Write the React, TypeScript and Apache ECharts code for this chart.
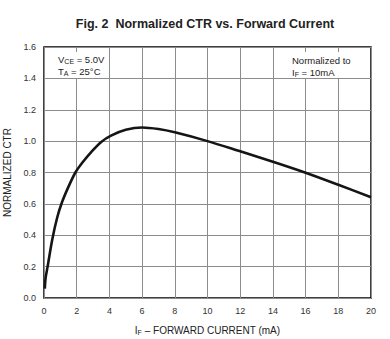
import React, { useEffect, useRef } from "react";
import * as echarts from "echarts";

const currentMA = [0.05, 0.1, 0.22, 0.5, 0.8, 1.1, 1.5, 1.92, 2.4, 2.9, 3.5, 4.1, 5, 6, 7, 8, 10, 12, 14, 16, 18, 20];
const normalizedCTR = [0.06, 0.13, 0.2, 0.37, 0.51, 0.61, 0.71, 0.8, 0.87, 0.932, 0.995, 1.035, 1.072, 1.087, 1.077, 1.056, 1.0, 0.935, 0.869, 0.799, 0.722, 0.642];

const titleText = "Fig. 2  Normalized CTR vs. Forward Current";
const yAxisName = "NORMALIZED CTR";

const FONT = "'Liberation Sans', Arial, sans-serif";

export default function App() {
  const ref = useRef<HTMLDivElement>(null);
  useEffect(() => {
    if (!ref.current) return;
    const chart = echarts.init(ref.current, undefined, { renderer: "svg" });
    const sub = (fs: number, pad: number) => ({
      fontSize: fs,
      fontFamily: FONT,
      fill: "#222",
      color: "#222",
      verticalAlign: "bottom",
      padding: [pad, 0, 0, 0],
    });
    const norm = (fs: number) => ({ fontSize: fs, fontFamily: FONT, fill: "#222", color: "#222", lineHeight: 12 });
    chart.setOption({
      animation: false,
      backgroundColor: "#fff",
      textStyle: { fontFamily: FONT },
      grid: {
        left: 44,
        right: 19,
        top: 47,
        bottom: 41,
        show: true,
        borderColor: "#000",
        borderWidth: 1.5,
        backgroundColor: "#fff",
        outerBoundsMode: "none",
        containLabel: false,
      },
      xAxis: {
        type: "value",
        min: 0,
        max: 20,
        interval: 2,
        axisLine: { show: false },
        axisTick: { show: false },
        splitLine: { show: true, lineStyle: { color: "#8c8c8c", width: 1 } },
        axisLabel: { fontSize: 9, color: "#333", margin: 8, fontFamily: FONT },
        name: "{n|I}{s|F}{n| – FORWARD CURRENT (mA)}",
        nameLocation: "middle",
        nameGap: 26,
        nameTextStyle: {
          rich: {
            n: { fontSize: 10, fontFamily: FONT, color: "#222", lineHeight: 12 },
            s: { fontSize: 7, fontFamily: FONT, color: "#222", verticalAlign: "bottom", padding: [3, 0, 0, 0] },
          },
        },
      },
      yAxis: {
        type: "value",
        min: 0,
        max: 1.6,
        interval: 0.2,
        axisLine: { show: false },
        axisTick: { show: false },
        splitLine: { show: true, lineStyle: { color: "#8c8c8c", width: 1 } },
        axisLabel: {
          fontSize: 9,
          color: "#333",
          margin: 8,
          fontFamily: FONT,
          formatter: (v: number) => v.toFixed(1),
        },
        name: yAxisName,
        nameLocation: "middle",
        nameGap: 32,
        nameTextStyle: { fontSize: 10, color: "#222", fontFamily: FONT },
      },
      graphic: [
        {
          type: "text",
          x: 205,
          y: 24,
          style: {
            text: titleText,
            fontSize: 12.5,
            fontWeight: "bold",
            fontFamily: FONT,
            fill: "#222",
            align: "center",
            verticalAlign: "middle",
          },
          z: 10,
        },
        { type: "rect", shape: { x: 51, y: 52, width: 52, height: 26 }, style: { fill: "#fff" }, z: 5 },
        { type: "rect", shape: { x: 287, y: 52, width: 67, height: 26 }, style: { fill: "#fff" }, z: 5 },
        {
          type: "text",
          x: 58,
          y: 53,
          z: 10,
          style: {
            text: "{n|V}{s|CE}{n| = 5.0V}\n{n|T}{s|A}{n| = 25°C}",
            rich: { n: norm(9.5), s: sub(7, 3) },
          },
        },
        {
          type: "text",
          x: 292,
          y: 54,
          z: 10,
          style: {
            text: "{n|Normalized to}\n{n|I}{s|F}{n| = 10mA}",
            rich: { n: norm(9.5), s: sub(7, 3) },
          },
        },
      ],
      series: [
        {
          type: "line",
          data: currentMA.map((x, i) => [x, normalizedCTR[i]]),
          smooth: 0.3,
          showSymbol: false,
          symbol: "none",
          lineStyle: { color: "#151515", width: 2.6 },
          z: 3,
        },
      ],
    });
    return () => chart.dispose();
  }, []);
  return (
    <div
      ref={ref}
      style={{ position: "absolute", left: 0, top: 0, width: 390, height: 339 }}
    />
  );
}
